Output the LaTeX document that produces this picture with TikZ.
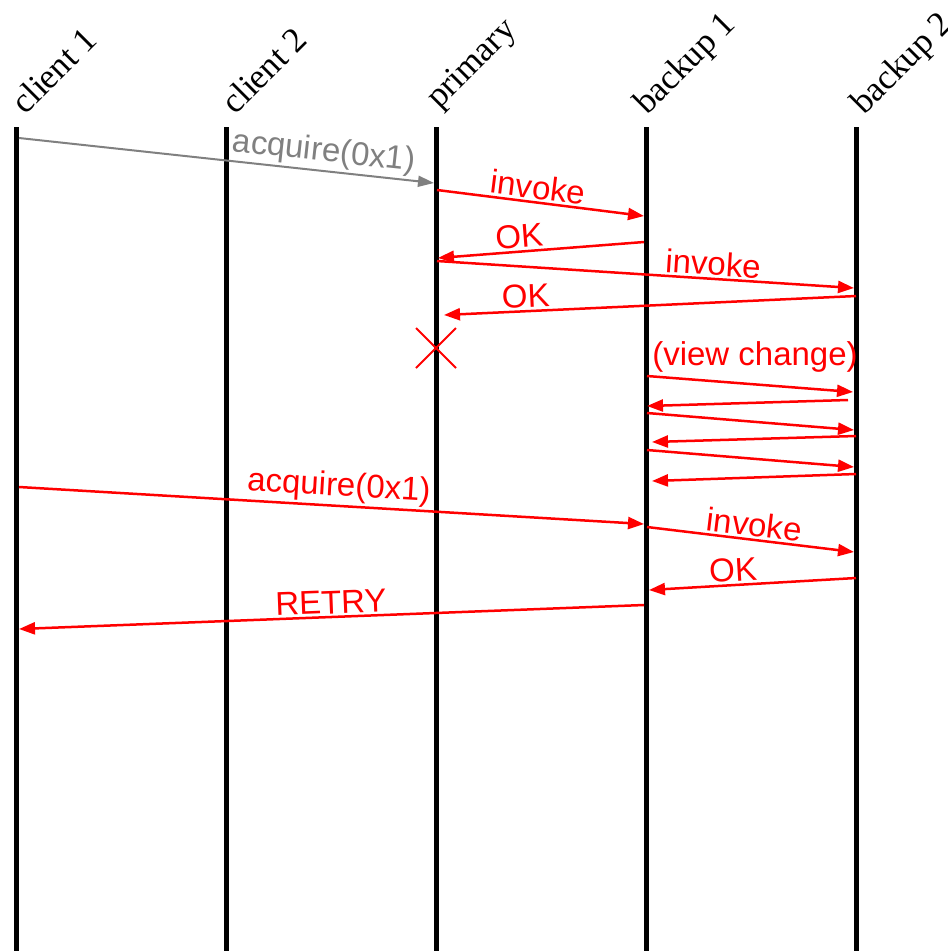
\documentclass[tikz,border=0pt]{standalone}
\usepackage{fontspec}
\setmainfont{Liberation Serif}
\newfontfamily\arialfont{Liberation Sans}
\usetikzlibrary{arrows.meta}
\definecolor{msgred}{RGB}{255,0,0}
\definecolor{msggray}{RGB}{128,128,128}
\begin{document}
\begin{tikzpicture}[x=1pt,y=-1pt,
  lifeline/.style={line width=5pt, black},
  actor/.style={rotate=45, anchor=base west, inner sep=0pt, font=\fontsize{35}{40}\selectfont},
  msg/.style={line width=2.5pt, msgred, -{Triangle[length=16pt,width=12pt]}},
  grmsg/.style={line width=2pt, msggray, -{Triangle[length=16pt,width=11pt]}},
  lbl/.style={sloped, above, inner sep=2pt, font=\arialfont\fontsize{33}{38}\selectfont},
  crossmark/.style={line width=2pt, msgred},
]
\useasboundingbox (0,0) rectangle (948,951);
% lifelines
\foreach \n/\x in {c1/16, c2/226, pr/436, b1/646, b2/856} {
  \coordinate (\n top) at (\x,127);
  \coordinate (\n bot) at (\x,951);
  \draw[lifeline] (\n top) -- (\n bot);
}
% actor labels
\node[actor] (lc1) at (25,116) {client 1};
\node[actor] (lc2) at (235,116) {client 2};
\node[actor] (lpr) at (439,110) {primary};
\node[actor] (lb1) at (647,116) {backup 1};
\node[actor] (lb2) at (864,116) {backup 2};
% message endpoints
\coordinate (a1) at (19,138);  \coordinate (a2) at (434,183);
\coordinate (i1) at (437,190); \coordinate (i2) at (644,216);
\coordinate (k1) at (644,242); \coordinate (k2) at (438,258);
\coordinate (j1) at (437,261); \coordinate (j2) at (854,288);
\coordinate (o1) at (856,296); \coordinate (o2) at (444,315);
\coordinate (v1) at (647,376); \coordinate (v2) at (853,392);
\coordinate (v3) at (848,400); \coordinate (v4) at (647,406);
\coordinate (v5) at (647,413); \coordinate (v6) at (854,430);
\coordinate (v7) at (856,436); \coordinate (v8) at (652,442);
\coordinate (v9) at (647,450); \coordinate (v10) at (854,467);
\coordinate (v11) at (856,474); \coordinate (v12) at (652,481);
\coordinate (r1) at (19,487);  \coordinate (r2) at (644,524);
\coordinate (n1) at (647,527); \coordinate (n2) at (854,552);
\coordinate (p1) at (856,578); \coordinate (p2) at (649,590);
\coordinate (t1) at (644,605); \coordinate (t2) at (19,629);
% messages
\draw[grmsg] (a1) -- node[lbl, pos=0.73] {acquire(0x1)} (a2);
\draw[msg] (i1) -- node[lbl, pos=0.48] {invoke} (i2);
\draw[msg] (k1) -- node[lbl, pos=0.6] {OK} (k2);
\draw[msg] (j1) -- node[lbl, pos=0.66] {invoke} (j2);
\draw[msg] (o1) -- node[lbl, pos=0.8] {OK} (o2);
% crash of primary
\coordinate (x0) at (436,348);
\draw[crossmark] ([shift={(-20,-20)}]x0) -- ([shift={(20,20)}]x0);
\draw[crossmark] ([shift={(-20,20)}]x0) -- ([shift={(20,-20)}]x0);
% view change
\node[font=\arialfont\fontsize{33}{38}\selectfont, text=msgred] (vc) at (755,357) {(view change)};
\draw[msg] (v1) -- (v2);
\draw[msg] (v3) -- (v4);
\draw[msg] (v5) -- (v6);
\draw[msg] (v7) -- (v8);
\draw[msg] (v9) -- (v10);
\draw[msg] (v11) -- (v12);
% retry
\draw[msg] (r1) -- node[lbl, pos=0.51] {acquire(0x1)} (r2);
\draw[msg] (n1) -- node[lbl, pos=0.51] {invoke} (n2);
\draw[msg] (p1) -- node[lbl, pos=0.59] {OK} (p2);
\draw[msg] (t1) -- node[lbl, pos=0.5] {RETRY} (t2);
\end{tikzpicture}
\end{document}
